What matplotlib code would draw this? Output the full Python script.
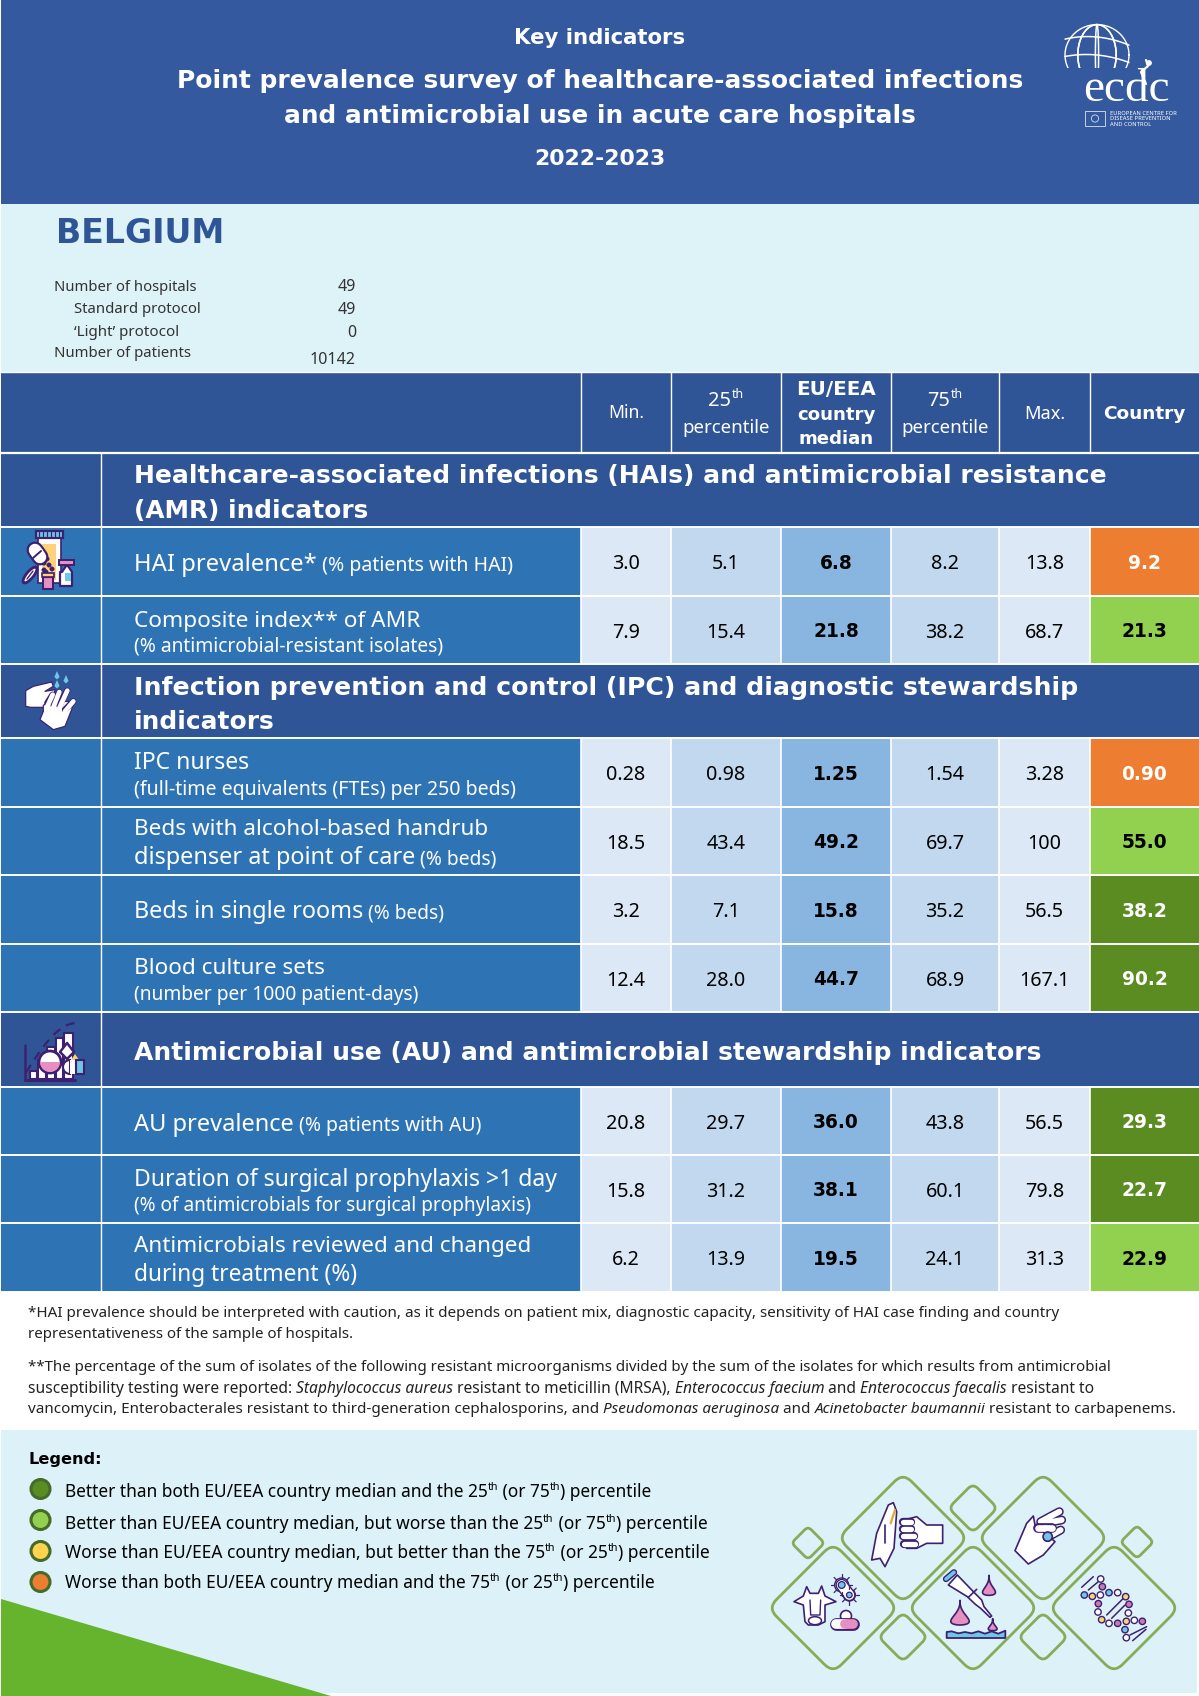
import matplotlib
matplotlib.use("Agg")
import matplotlib.pyplot as plt
from matplotlib.patches import Rectangle, Polygon, Circle, Ellipse, PathPatch, Wedge, FancyBboxPatch
from matplotlib.path import Path
import numpy as np

# ---------- data ----------
columns = ["Min.", "25th", "EU/EEA", "75th", "Max.", "Country"]
min_vals = ["3.0", "7.9", "0.28", "18.5", "3.2", "12.4", "20.8", "15.8", "6.2"]
p25_vals = ["5.1", "15.4", "0.98", "43.4", "7.1", "28.0", "29.7", "31.2", "13.9"]
median_vals = ["6.8", "21.8", "1.25", "49.2", "15.8", "44.7", "36.0", "38.1", "19.5"]
p75_vals = ["8.2", "38.2", "1.54", "69.7", "35.2", "68.9", "43.8", "60.1", "24.1"]
max_vals = ["13.8", "68.7", "3.28", "100", "56.5", "167.1", "56.5", "79.8", "31.3"]
country_vals = ["9.2", "21.3", "0.90", "55.0", "38.2", "90.2", "29.3", "22.7", "22.9"]
country_class = ["worst", "better", "worst", "better", "best", "best", "best", "best", "better"]
stat_labels = ["Number of hospitals", "Standard protocol", "\u2018Light\u2019 protocol", "Number of patients"]
stat_values = ["49", "49", "0", "10142"]

# ---------- colours ----------
BAND = "#34599F"; HEAD = "#2F5597"; ROW = "#2E74B5"; LIGHT = "#DDF3F8"; LEG = "#DCF2F8"
C1 = "#DCE8F5"; C2 = "#C1D8EF"; C3 = "#89B6E0"
CLS = {"worst": "#ED7D31", "better": "#92D050", "best": "#5B8C22", "mid": "#FFD34D"}
TXT_CLS = {"worst": "white", "better": "black", "best": "white"}
PUR = "#3E2070"; PINK = "#E78FC0"; SKY = "#6EC6E8"; YEL = "#FDD27A"; DGREEN = "#86AC5A"

REG = "Noto Sans"; BLD = "DejaVu Sans"

fig = plt.figure(figsize=(11.99, 16.96), dpi=100, facecolor="white")
ax = fig.add_axes([0, 0, 1, 1])
ax.set_xlim(0, 1199); ax.set_ylim(1696, 0); ax.axis("off")
rend = fig.canvas.get_renderer()


def measure(s, size, family, weight, style):
    t = ax.text(0, 0, "x" + s + "x", fontsize=size, family=family, weight=weight, style=style)
    a = t.get_window_extent(rend).width
    t.set_text("xx")
    b = t.get_window_extent(rend).width
    t.remove()
    return a - b


def N(s, k=1.0): return (s, k, False, False, False)
def B(s, k=1.0): return (s, k, True, False, False)
def I(s, k=1.0): return (s, k, False, True, False)
def S(s, k=1.0): return (s, k * .62, False, False, True)


def runs(x, y, parts, size, w=None, color="white", ha="left", zorder=5):
    """Write a line of mixed-style text whose cap-height centre sits at y."""
    if isinstance(parts, str):
        parts = [N(parts)]
    def total(sz):
        return sum(measure(p[0], sz * p[1], BLD if p[2] else REG, "bold" if p[2] else "normal",
                           "italic" if p[3] else "normal") for p in parts)
    if w is not None:
        size = size * w / total(size)
    tw = total(size)
    cx = x - tw / 2 if ha == "center" else (x - tw if ha == "right" else x)
    base = y + 0.36 * size * 100 / 72
    for s, k, b, i, sup in parts:
        sz = size * k
        fam = BLD if b else REG
        wt = "bold" if b else "normal"
        st = "italic" if i else "normal"
        dy = -0.42 * size * 100 / 72 if sup else 0
        ax.text(cx, base + dy, s, fontsize=sz, family=fam, weight=wt, style=st, color=color,
                va="baseline", ha="left", zorder=zorder)
        cx += measure(s, sz, fam, wt, st)


def bold(x, y, s, size, w=None, color="white", ha="left"):
    runs(x, y, [B(s)], size, w, color, ha)


def rect(x0, y0, x1, y1, c, edge=None, lw=0, z=1):
    ax.add_patch(Rectangle((x0, y0), x1 - x0, y1 - y0, facecolor=c, edgecolor=edge or "none", linewidth=lw, zorder=z))


def poly(pts, fc="white", ec=PUR, lw=1.2, z=3, closed=True):
    ax.add_patch(Polygon(pts, closed=closed, facecolor=fc, edgecolor=ec, linewidth=lw, zorder=z, joinstyle="round"))


def circ(x, y, r, fc="white", ec=PUR, lw=1.2, z=4):
    ax.add_patch(Circle((x, y), r, facecolor=fc, edgecolor=ec, linewidth=lw, zorder=z))


def line(xs, ys, c=PUR, lw=1.2, z=4, ls="-"):
    ax.plot(xs, ys, color=c, lw=lw, zorder=z, ls=ls, solid_capstyle="round")


# ---------- backgrounds ----------
rect(1, 0, 1199, 204, BAND)
rect(1, 204, 1199, 372, LIGHT)
rect(1, 1430, 1197, 1693, LEG)
poly([(1, 1599), (331, 1696), (1, 1696)], fc="#66B32E", ec="none", lw=0, z=1)

# ---------- title ----------
bold(600, 36, "Key indicators", 14, 172, ha="center")
bold(600, 79, "Point prevalence survey of healthcare-associated infections", 18, 844, ha="center")
bold(600, 114.5, "and antimicrobial use in acute care hospitals", 18, 632, ha="center")
bold(600, 157, "2022-2023", 15, 132, ha="center")
bold(56, 231, "BELGIUM", 24, 169, color="#2F5597")

# stats block
stat_x = [54, 74, 74, 54]
stat_w = [143, 127, 105, 137]
stat_y = [285.5, 308, 331, 351.5]
stat_vy = [285.5, 308, 331, 358]
for lab, val, x, w, y, vy in zip(stat_labels, stat_values, stat_x, stat_w, stat_y, stat_vy):
    runs(x, y, lab, 11.5, w, color="#333333")
    runs(356, vy, val, 11.5, color="#333333", ha="right")

# ---------- table ----------
X = [581, 671, 781, 891, 999, 1090, 1199]
L = 101
rect(1, 372, 1199, 453, HEAD)
for xv in X[:-1]:
    line([xv, xv], [372, 453], c="white", lw=1.0, z=2)
line([1, 1199], [372, 372], c="white", lw=1.0, z=2)
line([1, 1199], [453, 453], c="white", lw=1.6, z=2)
cx = [(a + b) / 2 for a, b in zip(X[:-1], X[1:])]
cx[-1] = 1144
runs(cx[0], 412, columns[0], 14, 36, ha="center")
runs(cx[1], 399, [N("25"), S("th")], 14, 35, ha="center")
runs(cx[1], 426, "percentile", 14, 88, ha="center")
bold(cx[2], 388, "EU/EEA", 13, 79, ha="center")
bold(cx[2], 413, "country", 13, 78, ha="center")
bold(cx[2], 437, "median", 13, 75, ha="center")
runs(cx[3], 399, [N("75"), S("th")], 14, 35, ha="center")
runs(cx[3], 426, "percentile", 14, 88, ha="center")
runs(cx[4], 412, columns[4], 14, 41, ha="center")
bold(cx[5], 412, columns[5], 13, 82, ha="center")

section_y = [(453, 527), (664, 738), (1012, 1087)]
for y0, y1 in section_y:
    rect(1, y0, 1199, y1, HEAD)
    line([L, L], [y0, y1], c="white", lw=1.0, z=2)
    line([1, 1199], [y1, y1], c="white", lw=1.4, z=2)
bold(134, 473.5, "Healthcare-associated infections (HAIs) and antimicrobial resistance", 18, 975)
bold(134, 509, "(AMR) indicators", 18, 234)
bold(134, 685.5, "Infection prevention and control (IPC) and diagnostic stewardship", 18, 943)
bold(134, 720, "indicators", 18, 141)
bold(134, 1051, "Antimicrobial use (AU) and antimicrobial stewardship indicators", 18, 908)

row_tops = [527, 596, 738, 807, 875, 944, 1087, 1155, 1223]
row_bots = [596, 664, 807, 875, 944, 1012, 1155, 1223, 1292]
cell_cols = [C1, C2, C3, C2, C1]
table = [min_vals, p25_vals, median_vals, p75_vals, max_vals]
for i, (y0, y1) in enumerate(zip(row_tops, row_bots)):
    rect(1, y0, X[0], y1, ROW)
    line([L, L], [y0, y1], c="white", lw=1.0, z=2)
    ym = (y0 + y1) / 2
    for j, vals in enumerate(table):
        rect(X[j], y0, X[j + 1], y1, cell_cols[j])
        if j == 2:
            bold(cx[j], ym + .5, vals[i], 13.4, color="black", ha="center")
        else:
            runs(cx[j], ym + .5, vals[i], 14.2, color="black", ha="center")
    rect(X[5], y0, X[6], y1, CLS[country_class[i]])
    bold((X[5] + X[6]) / 2 + 0, ym + .5, country_vals[i], 13.4, color=TXT_CLS[country_class[i]], ha="center")
    for xv in X[:-1]:
        line([xv, xv], [y0, y1], c="white", lw=1.2, z=2)
    line([1, 1199], [y1, y1], c="white", lw=1.4, z=2)

rl = 134
runs(rl, 562, [N("HAI prevalence*"), N(" (% patients with HAI)", .82)], 16, 378)
runs(rl, 618.5, "Composite index** of AMR", 16, 286)
runs(rl, 645, "(% antimicrobial-resistant isolates)", 13.5, 310)
runs(rl, 761, "IPC nurses", 16, 115)
runs(rl, 788, "(full-time equivalents (FTEs) per 250 beds)", 13.5, 382)
runs(rl, 827, "Beds with alcohol-based handrub", 16, 353)
runs(rl, 856, [N("dispenser at point of care"), N(" (% beds)", .82)], 16, 363)
runs(rl, 910, [N("Beds in single rooms"), N(" (% beds)", .82)], 16, 310)
runs(rl, 966, "Blood culture sets", 16, 191)
runs(rl, 993, "(number per 1000 patient-days)", 13.5, 285)
runs(rl, 1122, [N("AU prevalence"), N(" (% patients with AU)", .82)], 16, 347)
runs(rl, 1178, "Duration of surgical prophylaxis >1 day", 16, 422)
runs(rl, 1204, "(% of antimicrobials for surgical prophylaxis)", 13.5, 398)
runs(rl, 1244, "Antimicrobials reviewed and changed", 16, 396)
runs(rl, 1273, "during treatment (%)", 16, 223)

# ---------- footnotes ----------
fc = "#222222"
runs(28, 1312, "*HAI prevalence should be interpreted with caution, as it depends on patient mix, diagnostic capacity, sensitivity of HAI case finding and country", 11, 1034, color=fc)
runs(28, 1333, "representativeness of the sample of hospitals.", 11, 326, color=fc)
runs(28, 1366, "**The percentage of the sum of isolates of the following resistant microorganisms divided by the sum of the isolates for which results from antimicrobial", 11, 1086, color=fc)
runs(28, 1387, [N("susceptibility testing were reported: "), I("Staphylococcus aureus"), N(" resistant to meticillin (MRSA), "),
                I("Enterococcus faecium"), N(" and "), I("Enterococcus faecalis"), N(" resistant to")], 11, 1069, color=fc)
runs(28, 1408, [N("vancomycin, Enterobacterales resistant to third-generation cephalosporins, and "), I("Pseudomonas aeruginosa"),
                N(" and "), I("Acinetobacter baumannii"), N(" resistant to carbapenems.")], 11, 1150, color=fc)

# ---------- legend ----------
bold(28, 1458, "Legend:", 11, 73, color="black")
leg_y = [1489, 1520, 1551, 1582]
leg_ty = [1491, 1523, 1552, 1582]
leg_c = ["#5B8C22", "#92D050", "#FFD34D", "#ED7D31"]
leg_w = [585, 641, 643, 587]
leg_parts = [
    [N("Better than both EU/EEA country median and the 25"), S("th"), N(" (or 75"), S("th"), N(") percentile")],
    [N("Better than EU/EEA country median, but worse than the 25"), S("th"), N(" (or 75"), S("th"), N(") percentile")],
    [N("Worse than EU/EEA country median, but better than the 75"), S("th"), N(" (or 25"), S("th"), N(") percentile")],
    [N("Worse than both EU/EEA country median and the 75"), S("th"), N(" (or 25"), S("th"), N(") percentile")],
]
for yc, ty, c, w, p in zip(leg_y, leg_ty, leg_c, leg_w, leg_parts):
    circ(40.5, yc, 9.5, fc=c, ec="#446B2B", lw=2.2)
    runs(65, ty, p, 12, w, color="black")


# ---------- rounded diamonds ----------
def rdiamond(cx_, cy_, h, r=0.13, lw=2.0):
    pts = [(cx_, cy_ - h), (cx_ + h, cy_), (cx_, cy_ + h), (cx_ - h, cy_)]
    verts, codes = [], []
    for i, p in enumerate(pts):
        prev = np.array(pts[i - 1]); nxt = np.array(pts[(i + 1) % 4]); p = np.array(p)
        a = p + (prev - p) * r; b = p + (nxt - p) * r
        verts += [tuple(a), tuple(p), tuple(b)]
        codes += [Path.MOVETO if i == 0 else Path.LINETO, Path.CURVE3, Path.CURVE3]
    verts.append(verts[0]); codes.append(Path.CLOSEPOLY)
    ax.add_patch(PathPatch(Path(verts, codes), fc="none", ec=DGREEN, lw=lw, zorder=2))


for c_ in [(903, 1538), (1043, 1538), (833, 1608), (973, 1608), (1114, 1608)]:
    rdiamond(*c_, 65)
for c_ in [(973, 1508), (903, 1637), (1043, 1637)]:
    rdiamond(*c_, 24.5, r=.2)
for c_ in [(808, 1543), (1137, 1542)]:
    rdiamond(*c_, 16.5, r=.2)


def P(x, y):
    return (x / 3 + 760, y / 3 + 1480)


def PP(lst):
    return [P(*q) for q in lst]


def Q(x, y):
    return (x / 3 + 790, y / 3 + 1560)


def QQ(lst):
    return [Q(*q) for q in lst]


def capsule(a, b, w, c1, c2, lw=1.1, z=4):
    mx, my = (a[0] + b[0]) / 2, (a[1] + b[1]) / 2
    line([a[0], b[0]], [a[1], b[1]], c=PUR, lw=w + 2 * lw, z=z)
    line([a[0], mx], [a[1], my], c=c1, lw=w, z=z + .1)
    line([mx, b[0]], [my, b[1]], c=c2, lw=w, z=z + .1)


# raised palm and fist
poly(PP([(335, 240), (350, 160), (385, 75), (400, 68), (410, 95), (402, 205), (375, 260), (360, 235)]))
line(*zip(*PP([(375, 135), (375, 190)])), z=4)
line(*zip(*PP([(405, 90), (392, 130)])), c="#E8A33D", lw=1.6, z=4)
poly(PP([(440, 118), (470, 110), (500, 135), (548, 135), (548, 190), (500, 190), (470, 205), (440, 205)]), lw=1.2)
for a_, b_ in [((428, 127), (452, 127)), ((428, 147), (452, 147)), ((430, 169), (462, 169)), ((432, 192), (466, 192))]:
    capsule(P(*a_), P(*b_), 3.8, "white", "white", z=4)
# hand with pills
poly(PP([(765, 212), (800, 130), (820, 108), (825, 135), (885, 185), (850, 225), (805, 252)]))
for a_, b_ in [((842, 125), (898, 95)), ((852, 130), (905, 120)), ((862, 172), (902, 150))]:
    capsule(P(*a_), P(*b_), 4.2, "white", "white", z=3.5)
capsule(P(835, 144), P(875, 144), 4.8, "white", "white", z=4.2)
circ(*P(863, 170), 4.6, fc=SKY, z=4.6)
# cow, germs, capsule
poly(QQ([(12, 125), (40, 108), (50, 80), (60, 100), (85, 100), (95, 78), (105, 108), (138, 125), (105, 135), (105, 185),
         (85, 195), (55, 195), (45, 185), (40, 135)]))
line(*zip(*QQ([(60, 120), (62, 165), (90, 165), (92, 120)])), lw=1.0)
ax.add_patch(Ellipse(Q(75, 182), 13, 8, fc="white", ec=PUR, lw=1.1, zorder=4))
line(*zip(Q(155, 75), Q(178, 105)), lw=9, z=3.6)
line(*zip(Q(155, 75), Q(178, 105)), c="white", lw=7, z=3.7)
circ(*Q(155, 75), 7, fc="white", ec=PUR, lw=1.0, z=3.5)
circ(*Q(178, 105), 6, fc="white", ec=PUR, lw=1.0, z=3.5)
circ(*Q(155, 75), 3.4, fc=SKY, lw=.9)
circ(*Q(178, 105), 2.8, fc=SKY, lw=.9)
for ang in np.arange(0, 360, 45):
    a_ = np.deg2rad(ang)
    for cc, r0, r1 in (((155, 75), 22, 32), ((178, 105), 19, 29)):
        if (cc[0] == 155 and 10 < ang < 80) or (cc[0] == 178 and 190 < ang < 260):
            continue
        line(*zip(Q(cc[0] + r0 * np.cos(a_), cc[1] + r0 * np.sin(a_)),
                  Q(cc[0] + r1 * np.cos(a_), cc[1] + r1 * np.sin(a_))), lw=.9)
circ(*Q(168, 168), 5.5, fc="white", z=3.6)
capsule(Q(138, 193), Q(190, 193), 7, "white", PINK, z=4)
# pipette, drops, water
poly(PP([(565, 315), (592, 285), (640, 335), (665, 360), (672, 380), (695, 408), (690, 412), (662, 385), (645, 372), (622, 350)]))
line(*zip(*PP([(558, 297), (582, 277)])), c=PUR, lw=4.6, z=3)
line(*zip(*PP([(558, 297), (582, 277)])), c=SKY, lw=2.6, z=3.1)
line(*zip(*PP([(625, 352), (650, 328)])))


def drop(x, y, w, h):
    t = np.linspace(0, 2 * np.pi, 60)
    xs = x + w * np.sin(t) * np.sin(t / 2) ** 1.6
    ys = y - h + 2 * h * np.sin(t / 2)
    poly(PP(list(zip(xs, ys))), fc=PINK)


drop(687, 316, 28, 30)
drop(600, 398, 40, 37)
drop(698, 434, 19, 18)
wx = [560, 575, 595, 615, 635, 655, 675, 695, 715, 736]
wy = [456, 454, 460, 456, 460, 454, 461, 454, 461, 452]
poly(PP(list(zip(wx, wy)) + [(736, 474), (560, 474)]), fc=SKY, lw=1.3)
# DNA
dna_w = [(1022, 297), (1021, 345), (1073, 338), (1105, 399), (1014, 396), (1047, 430), (1123, 421), (1099, 473)]
dna_p = [(1027, 320), (1107, 373), (1015, 371), (1073, 430), (1147, 424)]
dna_b = [(973, 345), (1047, 338), (1095, 449)]
dna_y = [(997, 349), (1097, 350), (1025, 419), (1099, 424)]
for a_, b_ in [((965, 322), (1000, 290)), ((985, 330), (1015, 305)), ((1040, 405), (1090, 355)), ((1055, 415), (1095, 375)),
               ((1110, 465), (1160, 440)), ((1118, 482), (1158, 448))]:
    line(*zip(P(*a_), P(*b_)), lw=1.1, z=3)
for lst, col in ((dna_w, "white"), (dna_p, "#C77BB5"), (dna_b, SKY), (dna_y, YEL)):
    for q in lst:
        circ(*P(*q), 3.2, fc=col, lw=1.0)

# ---------- table icons ----------
# pill bottle
rect(38, 538, 61, 583, "white", edge=PUR, lw=1.2, z=3)
rect(42, 544, 56, 580, YEL, z=3.2)
rect(36, 531, 63, 538, SKY, edge=PUR, lw=1.6, z=4)
for px in range(39, 62, 4):
    line([px, px], [532, 536], lw=.9, z=5)
capsule((35, 550), (40, 557), 9, "white", "white", lw=1.6, z=5)
line([33, 41], [558, 551], lw=1.4, z=5.5)
for q in [(44, 563), (47, 559), (44, 570), (49, 565), (46, 572), (52, 569)]:
    circ(*q, 2.2, fc=PUR, ec=PUR, lw=.3, z=5)
ax.add_patch(Ellipse((30, 575), 7, 20, angle=40, fc="white", ec=PUR, lw=2, zorder=5))
line([27, 33], [579, 571], lw=1.0, z=5.5)
rect(43, 577, 53, 589, PINK, edge=PUR, lw=1.5, z=5)
rect(42, 573, 54, 577, YEL, edge=PUR, lw=1.2, z=5)
poly([(62, 572), (66, 566), (68, 566), (72, 572), (72, 586), (60, 586), (60, 572)], fc="white", lw=1.6, z=5)
rect(65, 573, 71, 581, SKY, z=5.1)
rect(59, 560, 74, 565, PINK, edge=PUR, lw=1.4, z=5)


# washing hands
def H(x, y):
    return (x / 3 + 10, y / 3 + 668)


poly([H(*q) for q in [(47, 68), (70, 55), (125, 42), (130, 55), (105, 70), (135, 65), (130, 100), (100, 118), (62, 118), (47, 115)]],
     fc="white", ec=PUR, lw=.9, z=3)
poly([H(*q) for q in [(100, 112), (125, 95), (165, 100), (190, 102), (185, 125), (165, 175), (130, 185), (90, 155), (100, 130)]],
     fc="white", ec=PUR, lw=.9, z=4)
for a_, b_ in [((112, 105), (128, 80)), ((130, 110), (148, 72)), ((148, 112), (172, 68)), ((165, 125), (190, 100))]:
    line(*zip(H(*a_), H(*b_)), c=PUR, lw=4.6, z=4.1)
for a_, b_ in [((112, 115), (128, 80)), ((130, 118), (148, 72)), ((148, 120), (172, 68)), ((165, 130), (190, 100))]:
    line(*zip(H(*a_), H(*b_)), c="white", lw=3.4, z=4.2)
for q in [(57, 676), (66, 680), (57, 685)]:
    poly([(q[0], q[1] - 5), (q[0] + 2.6, q[1] + 1), (q[0], q[1] + 3.5), (q[0] - 2.6, q[1] + 1)], fc=SKY, ec="none", lw=0)
# AU chart
line([24.5, 24.5], [1045, 1080], lw=1.8)
line([24.5, 75], [1080, 1080], lw=2.2)
for x0_, x1_, yt in [(30, 37, 1071), (38, 46, 1060), (47, 55, 1047), (56, 63, 1038), (64, 73, 1033)]:
    rect(x0_, yt, x1_, 1079, "white", edge=PUR, lw=1.5, z=3)
circ(50, 1062, 11, fc="white", lw=2, z=4)
ax.add_patch(Wedge((50, 1062), 10, 0, 180, fc=PINK, ec="none", zorder=4.1))
poly([(67, 1043), (74, 1052), (67, 1059), (60, 1052)], fc="white", lw=1.8, z=4)
poly([(71, 1060), (79, 1060), (75, 1054)], fc=YEL, ec="none", lw=0, z=4)
ax.add_patch(Wedge((70, 1067), 7, 90, 270, fc="white", ec=PUR, lw=1.5, zorder=4))
ax.add_patch(Rectangle((70, 1060), 6, 14, fc="white", ec="none", zorder=4))
rect(76, 1060, 84, 1074, SKY, edge=PUR, lw=1.5, z=4)
s_ = np.linspace(0.1, 1.55, 30)
line(26 + np.linspace(0, 50, 30), 1078 - 55 * np.sin(s_), lw=1.6, ls=(0, (4, 3)), z=2.5)

# ---------- logo ----------
gx, gy, gr = 1097, 55, 32
th = np.linspace(0, 2 * np.pi, 80)
line(gx + gr * np.cos(th), gy + gr * .95 * np.sin(th), c="white", lw=1.0)
for k in (-.6, 0.05, .6):
    line(gx + gr * k * np.cos(th), gy + gr * .95 * np.sin(th), c="white", lw=1.1)
for k, off in ((.32, -16), (.28, 2), (.25, 18)):
    xs_ = np.linspace(-gr, gr, 40)
    line(gx + xs_, gy + off + xs_ / gr * 3 + (xs_ / gr) ** 2 * 8 * k * 2 - 2, c="white", lw=1.1)
ax.add_patch(Rectangle((gx - 40, 68), 120, 25, fc=BAND, ec="none", zorder=4.2))
ax.text(1083, 101, "ecdc", color="white", fontsize=34, family="Liberation Serif", va="baseline", ha="left", zorder=6)
line([1146, 1141, 1148, 1146], [84, 72, 66, 60], c="white", lw=1.6, z=6)
circ(1149, 63, 2.5, fc="white", ec="white", lw=.5, z=6)
rect(1085, 111, 1105, 126, "none", edge="white", lw=.5, z=5)
circ(1095, 118.5, 3.6, fc="none", ec="#CFE0F2", lw=.6, z=5)
for s_t, y_ in (("EUROPEAN CENTRE FOR", 113.5), ("DISEASE PREVENTION", 118.5), ("AND CONTROL", 124)):
    ax.text(1110, y_, s_t, color="white", fontsize=4.2, family=REG, va="center", ha="left", zorder=5)

fig.savefig("out.png", dpi=100)
